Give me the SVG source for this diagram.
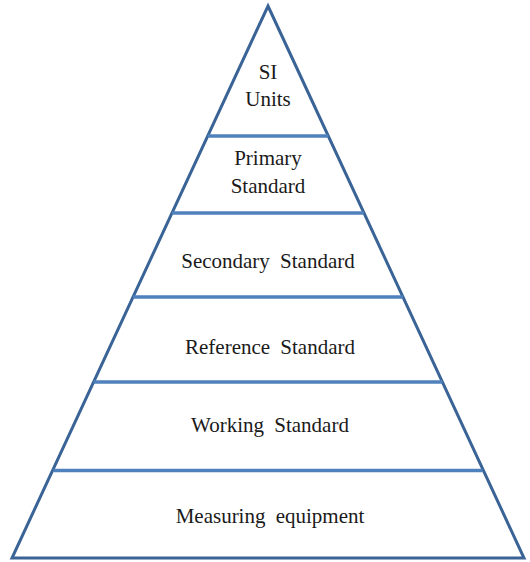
<svg xmlns="http://www.w3.org/2000/svg" width="530" height="562" viewBox="0 0 530 562">
  <style>
    .tier { fill: none; stroke: #4f81bd; stroke-width: 3.5; }
    .outline { fill: #ffffff; stroke: #3a6396; stroke-width: 3; stroke-linejoin: miter; }
    .label { font-family: 'Liberation Serif', 'DejaVu Serif', 'Times New Roman', serif; font-size: 21px; fill: #1a1a1a; text-anchor: middle; word-spacing: 5px; }
  </style>
  <rect width="530" height="562" fill="#ffffff"/>
  <g id="pyramid">
    <polygon class="outline" points="268,6 524,558 12,558"/>
  </g>
  <g id="connectors">
    <line class="tier" x1="207.7" y1="136" x2="328.3" y2="136"/>
    <line class="tier" x1="172" y1="213" x2="364" y2="213"/>
    <line class="tier" x1="133" y1="297" x2="403" y2="297"/>
    <line class="tier" x1="93.6" y1="382" x2="442.4" y2="382"/>
    <line class="tier" x1="53.5" y1="470.5" x2="482.5" y2="470.5"/>
  </g>
  <g id="si-units">
    <text class="label" x="268" y="79">SI</text>
    <text class="label" x="268" y="106">Units</text>
  </g>
  <g id="primary-standard">
    <text class="label" x="268" y="165">Primary</text>
    <text class="label" x="268" y="193">Standard</text>
  </g>
  <g id="secondary-standard">
    <text class="label" x="268" y="268">Secondary Standard</text>
  </g>
  <g id="reference-standard">
    <text class="label" x="270" y="354">Reference Standard</text>
  </g>
  <g id="working-standard">
    <text class="label" x="270" y="432">Working Standard</text>
  </g>
  <g id="measuring-equipment">
    <text class="label" x="270" y="523">Measuring equipment</text>
  </g>
</svg>
